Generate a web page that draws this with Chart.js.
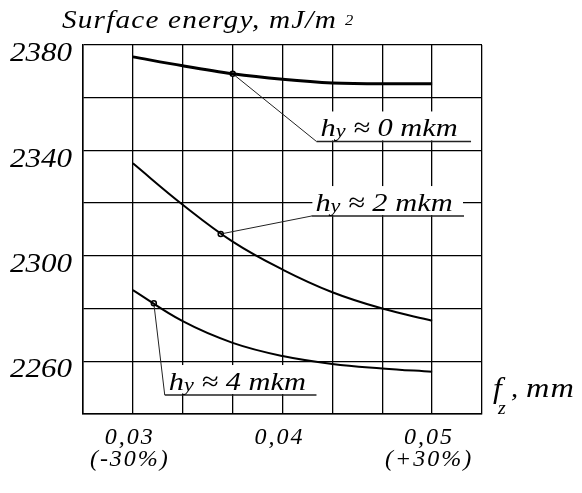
<!DOCTYPE html>
<html>
<head>
<meta charset="utf-8">
<script src="https://cdn.jsdelivr.net/npm/chart.js@4/dist/chart.umd.min.js"></script>
<style>
  html, body { margin: 0; padding: 0; background: #fff; }
  #wrap { width: 582px; height: 493px; }
</style>
</head>
<body>
<div id="wrap"><canvas id="chart" width="582" height="493"></canvas></div>
<script>
// Feed per tooth, mm
const feedPerTooth = [0.03, 0.03333, 0.03667, 0.04, 0.04333, 0.04667, 0.05];
// Surface energy, mJ/m2, for each roughness height
const energyH0 = [2375.5, 2372.1, 2369.1, 2367.0, 2365.6, 2365.3, 2365.3];
const energyH2 = [2335.1, 2319.4, 2305.4, 2294.8, 2286.2, 2280.0, 2275.4];
const energyH4 = [2287.0, 2275.2, 2267.0, 2262.0, 2259.0, 2257.3, 2256.0];
// Points on each curve that the callouts point to
const calloutX = [0.03667, 0.03587, 0.0314];
const calloutY = [2369.1, 2308.3, 2282.0];
const calloutText = ['0', '2', '4'];

// Axis ticks and labels
const xMin = 0.0266667, xMax = 0.0533333, xStep = 0.0033333;
const yMin = 2240, yMax = 2380, yStep = 20;
const xTickValues = [0.03, 0.04, 0.05];
const xTickLabels = [['0,03', '(-30%)'], '0,04', ['0,05', '(+30%)']];
const yTickLabels = [2380, 2340, 2300, 2260];

const SERIF = "'Liberation Serif', 'DejaVu Serif', serif";

// Callout boxes: label underline start/end and height in data units
const callouts = [
  { x0: 0.04227, x1: 0.0526, y: 2343.4 },
  { x0: 0.04193, x1: 0.05213, y: 2315.1 },
  { x0: 0.03213, x1: 0.04227, y: 2247.2 }
];

const curve = (data, w, mode) => ({
  data: feedPerTooth.map((x, i) => ({ x, y: data[i] })),
  showLine: true,
  borderColor: '#000',
  borderWidth: w,
  pointRadius: 0,
  tension: 0.4,
  cubicInterpolationMode: mode,
  fill: false
});

// Draw tick labels of a scale with a wider set: letter spacing and,
// for the value axis, a horizontal stretch about the label anchor
function wideLabels(scale, spacing, stretch) {
  if (scale._wide) return;
  const orig = scale.drawLabels.bind(scale);
  scale.drawLabels = function (area) {
    const c = this.ctx;
    c.save();
    c.letterSpacing = spacing;
    if (stretch) {
      const ax = this.right - this.options.ticks.padding;
      c.translate(ax, 0);
      c.scale(stretch, 1);
      c.translate(-ax, 0);
    }
    orig(area);
    c.restore();
  };
  scale._wide = true;
}

// Text drawn stretched horizontally; returns the advance in pixels
function wideText(ctx, text, x, y, font, sx, spacing) {
  ctx.save();
  ctx.font = font;
  ctx.letterSpacing = spacing || '0px';
  ctx.translate(x, y);
  ctx.scale(sx, 1);
  ctx.fillText(text, 0, 0);
  const w = ctx.measureText(text).width * sx;
  ctx.restore();
  return w;
}

const textPlugin = {
  id: 'texts',
  beforeDatasetsDraw(chart) {
    const ctx = chart.ctx;
    const xs = chart.scales.x, ys = chart.scales.y;
    ctx.save();
    callouts.forEach((c, i) => {
      const px0 = xs.getPixelForValue(c.x0);
      const px1 = xs.getPixelForValue(c.x1);
      const py = ys.getPixelForValue(c.y);
      // clear the grid behind the label
      ctx.fillStyle = '#fff';
      ctx.fillRect(px0 + 1, py - 30, px1 - px0 - 2, 29);
      // leader line
      ctx.strokeStyle = '#222';
      ctx.lineWidth = 1;
      ctx.beginPath();
      ctx.moveTo(xs.getPixelForValue(calloutX[i]), ys.getPixelForValue(calloutY[i]));
      ctx.lineTo(px0, py);
      ctx.stroke();
      // underline
      ctx.lineWidth = 1.5;
      ctx.beginPath();
      ctx.moveTo(px0, py);
      ctx.lineTo(px1, py);
      ctx.stroke();
      // label text
      ctx.fillStyle = '#000';
      ctx.textBaseline = 'alphabetic';
      ctx.textAlign = 'left';
      let tx = px0 + 4;
      const by = py - 5;
      tx += wideText(ctx, 'h', tx, by, 'italic 26px ' + SERIF, 1.17);
      tx += wideText(ctx, 'y', tx, by + 1, 'italic 19px ' + SERIF, 1.17);
      wideText(ctx, ' \u2248 ' + calloutText[i] + ' mkm', tx, by, 'italic 26px ' + SERIF, 1.17);
    });
    ctx.restore();
  },
  afterDraw(chart) {
    const ctx = chart.ctx;
    ctx.save();
    ctx.fillStyle = '#000';
    ctx.textBaseline = 'alphabetic';
    ctx.textAlign = 'left';
    // title
    const tw = wideText(ctx, 'Surface energy, mJ/m', 62, 28, 'italic 25px ' + SERIF, 1.17, '1px');
    wideText(ctx, '2', 62 + tw + 8, 25, 'italic 15px ' + SERIF, 1.1);
    // x axis name
    wideText(ctx, 'f', 493, 398, 'italic 30px ' + SERIF, 1.05);
    wideText(ctx, 'z', 498, 414, 'italic 18px ' + SERIF, 1.1);
    wideText(ctx, ',', 511, 397, 'italic 26px ' + SERIF, 1.1);
    wideText(ctx, 'mm', 526, 397, 'italic 27px ' + SERIF, 1.2, '1px');
    ctx.restore();
  }
};

new Chart(document.getElementById('chart'), {
  type: 'scatter',
  data: {
    datasets: [
      curve(energyH0, 3, 'monotone'),
      curve(energyH2, 2, 'default'),
      curve(energyH4, 2, 'default'),
      {
        data: calloutX.map((x, i) => ({ x, y: calloutY[i] })),
        showLine: false,
        pointRadius: 2.5,
        pointBackgroundColor: '#fff',
        pointBorderColor: '#000',
        pointBorderWidth: 1.5
      }
    ]
  },
  options: {
    responsive: false,
    animation: false,
    events: [],
    layout: { padding: { top: 45, right: 100, left: 0, bottom: 0 } },
    plugins: { legend: { display: false }, tooltip: { enabled: false }, title: { display: false } },
    scales: {
      x: {
        type: 'linear',
        min: xMin,
        max: xMax,
        afterBuildTicks(scale) {
          const ticks = [];
          for (let i = 0; i <= 8; i++) ticks.push({ value: xMin + i * xStep });
          scale.ticks = ticks;
          wideLabels(scale, '2px', 0);
        },
        afterFit(scale) { scale.height = 79; },
        grid: { color: '#000', lineWidth: 1.3, drawTicks: false },
        border: { display: true, color: '#000', width: 1.5 },
        ticks: {
          autoSkip: false,
          maxRotation: 0,
          padding: 13,
          labelOffset: -3,
          color: '#000',
          font: { family: SERIF, size: 24, style: 'italic', lineHeight: 0.9 },
          callback(value) {
            const k = xTickValues.findIndex(v => Math.abs(v - value) < 1e-4);
            return k >= 0 ? xTickLabels[k] : '';
          }
        }
      },
      y: {
        type: 'linear',
        min: yMin,
        max: yMax,
        afterBuildTicks(scale) { wideLabels(scale, '0px', 1.15); },
        afterFit(scale) { scale.width = 83; },
        grid: { color: '#000', lineWidth: 1.3, drawTicks: false },
        border: { display: true, color: '#000', width: 1.5 },
        ticks: {
          stepSize: yStep,
          padding: 11,
          labelOffset: 9,
          color: '#000',
          font: { family: SERIF, size: 27, style: 'italic' },
          callback(value) {
            return yTickLabels.includes(value) ? String(value) : '';
          }
        }
      }
    }
  },
  plugins: [textPlugin]
});
</script>
</body>
</html>
